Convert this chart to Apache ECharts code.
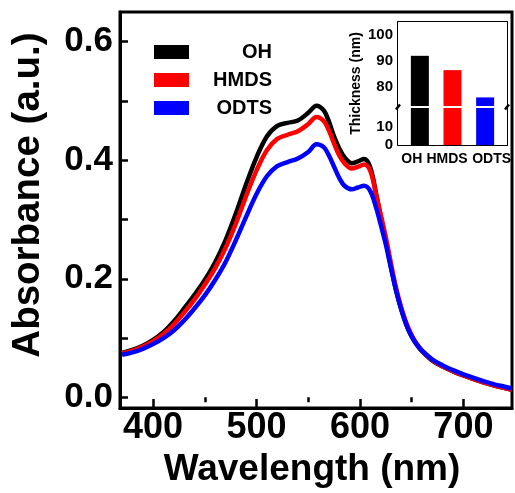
<!DOCTYPE html>
<html>
<head>
<meta charset="utf-8">
<script src="https://cdn.jsdelivr.net/npm/echarts@6/dist/echarts.min.js"></script>
<style>
  html, body { margin: 0; padding: 0; background: #fff; }
  #chart { width: 515px; height: 493px; }
</style>
</head>
<body>
<div id="chart"></div>
<script>
// UV-vis absorption spectra of films on differently treated substrates
const wavelength = [370, 380, 390, 400, 410, 420, 430, 440, 450, 460, 470, 480, 490, 500, 510, 520, 530, 540, 550, 558, 565, 570, 575, 580, 585, 592, 598, 604, 610, 616, 620, 625, 630, 635, 640, 645, 650, 655, 660, 670, 680, 690, 700, 710, 720, 730, 740, 747];
const absOH   = [0.075, 0.080, 0.087, 0.097, 0.110, 0.128, 0.150, 0.173, 0.198, 0.228, 0.265, 0.310, 0.360, 0.405, 0.440, 0.458, 0.463, 0.467, 0.480, 0.492, 0.484, 0.465, 0.440, 0.420, 0.405, 0.395, 0.398, 0.402, 0.388, 0.340, 0.305, 0.265, 0.220, 0.180, 0.148, 0.122, 0.103, 0.089, 0.078, 0.062, 0.052, 0.044, 0.037, 0.031, 0.025, 0.020, 0.016, 0.013];
const absHMDS = [0.074, 0.079, 0.086, 0.095, 0.107, 0.123, 0.143, 0.165, 0.190, 0.218, 0.252, 0.293, 0.340, 0.383, 0.417, 0.436, 0.443, 0.449, 0.461, 0.473, 0.466, 0.450, 0.428, 0.408, 0.395, 0.386, 0.389, 0.393, 0.382, 0.339, 0.309, 0.270, 0.226, 0.184, 0.151, 0.125, 0.105, 0.090, 0.079, 0.063, 0.052, 0.044, 0.037, 0.031, 0.025, 0.020, 0.016, 0.013];
const absODTS = [0.072, 0.076, 0.082, 0.090, 0.100, 0.113, 0.130, 0.150, 0.172, 0.198, 0.228, 0.265, 0.305, 0.343, 0.373, 0.390, 0.397, 0.403, 0.414, 0.427, 0.422, 0.408, 0.389, 0.370, 0.357, 0.351, 0.354, 0.357, 0.348, 0.318, 0.292, 0.258, 0.218, 0.180, 0.148, 0.122, 0.103, 0.089, 0.079, 0.064, 0.054, 0.046, 0.039, 0.033, 0.027, 0.022, 0.018, 0.015];

const seriesNames = ['OH', 'HMDS', 'ODTS'];
const xTickLabels = [400, 500, 600, 700];
const xMinorTicks = [450, 550, 650];
const yTickLabels = [0, 0.2, 0.4, 0.6];
const yTicks = [0, 0.1, 0.2, 0.3, 0.4, 0.5, 0.6];

// inset: film thickness per substrate treatment
const thicknessNm = [92, 86.5, 76];
const insetUpperTicks = [80, 85, 90, 95, 100];
const insetUpperLabels = [80, 90, 100];
const insetLowerTicks = [0, 5, 10, 15];
const insetLowerLabels = [0, 10];

const palette = ['#000000', '#ff0000', '#0000ff'];
const FONT = '"Liberation Sans", Arial, sans-serif';

// layout
const main = { left: 120, top: 12, width: 392, height: 401 };
const inset = { left: 398, width: 109, top: 22, breakTop: 106, breakBottom: 108, bottom: 145 };

const chart = echarts.init(document.getElementById('chart'), null, { renderer: 'canvas' });

const spectra = [absOH, absHMDS, absODTS];

const lineSeries = spectra.map((arr, i) => ({
  name: seriesNames[i],
  type: 'line',
  xAxisIndex: 0,
  yAxisIndex: 0,
  data: wavelength.map((w, k) => [w, arr[k]]),
  showSymbol: false,
  smooth: 0.35,
  lineStyle: { color: palette[i], width: 4.5 },
  itemStyle: { color: palette[i] },
  z: 3 + i
}));

const barData = thicknessNm.map((v, i) => ({ value: [i + 1, v], itemStyle: { color: palette[i] } }));

const insetLabelShift = {
  OH: { padding: [0, 16, 0, 0] },
  HMDS: { padding: [0, 11, 0, 0] },
  ODTS: { padding: [0, 0, 0, 13] }
};
const insetRich = {};
Object.keys(insetLabelShift).forEach(k => {
  insetRich[k] = Object.assign({ fontFamily: FONT, fontWeight: 'bold', fontSize: 14, color: '#000' }, insetLabelShift[k]);
});

const insetAxisLine = { show: true, lineStyle: { color: '#000', width: 2 } };

const option = {
  backgroundColor: '#fff',
  animation: false,
  grid: [
    { left: main.left, top: main.top, width: main.width, height: main.height, show: true, borderColor: '#000', borderWidth: 3, backgroundColor: 'transparent', z: 1 },
    { left: main.left, top: main.top, width: main.width, height: main.height, show: false },
    { left: inset.left, top: inset.top, width: inset.width, height: inset.breakTop - inset.top, show: true, borderWidth: 0, backgroundColor: '#fff', z: 10 },
    { left: inset.left, top: inset.breakBottom, width: inset.width, height: inset.bottom - inset.breakBottom, show: true, borderWidth: 0, backgroundColor: '#fff', z: 10 }
  ],
  legend: {
    data: seriesNames,
    orient: 'vertical',
    left: 149,
    top: 37,
    icon: 'rect',
    itemWidth: 35,
    itemHeight: 14,
    itemGap: 8,
    formatter: name => '{r|' + name + '}',
    textStyle: {
      fontFamily: FONT, fontWeight: 'bold', fontSize: 20, color: '#000', lineHeight: 14, width: 78,
      rich: { r: { fontFamily: FONT, fontWeight: 'bold', fontSize: 20, color: '#000', align: 'right', width: 78, lineHeight: 14 } }
    }
  },
  xAxis: [
    {
      gridIndex: 0, type: 'value', min: 368, max: 747,
      axisLine: { show: true, onZero: false, lineStyle: { color: '#000', width: 3 } },
      axisTick: { show: true, inside: true, length: 9, lineStyle: { color: '#000', width: 2.5 }, customValues: xTickLabels },
      axisLabel: { customValues: xTickLabels, fontFamily: FONT, fontWeight: 'bold', fontSize: 36, color: '#000', margin: 2 },
      splitLine: { show: false },
      name: 'Wavelength (nm)', nameLocation: 'middle', nameGap: 36,
      nameTextStyle: { fontFamily: FONT, fontWeight: 'bold', fontSize: 37, color: '#000', padding: [0, 8, 0, 0] }
    },
    {
      gridIndex: 1, type: 'value', min: 368, max: 747,
      axisLine: { show: false },
      axisTick: { show: true, inside: true, length: 5, lineStyle: { color: '#000', width: 2.5 }, customValues: xMinorTicks },
      axisLabel: { show: false },
      splitLine: { show: false }
    },
    {
      gridIndex: 2, type: 'value', min: 0.33, max: 3.67, position: 'top',
      axisLine: insetAxisLine, axisTick: { show: false }, axisLabel: { show: false }, splitLine: { show: false }
    },
    {
      gridIndex: 3, type: 'value', min: 0.33, max: 3.67, position: 'bottom',
      axisLine: insetAxisLine,
      axisTick: { show: true, inside: true, length: 3, lineStyle: { color: '#000', width: 1.5 }, customValues: [1.5, 2.5] },
      axisLabel: {
        customValues: [1, 2, 3], margin: 7,
        formatter: v => { const n = seriesNames[Math.round(v) - 1]; return '{' + n + '|' + n + '}'; },
        rich: insetRich
      },
      splitLine: { show: false }
    }
  ],
  yAxis: [
    {
      gridIndex: 0, type: 'value', min: -0.018, max: 0.65,
      axisLine: { show: true, onZero: false, lineStyle: { color: '#000', width: 3 } },
      axisTick: { show: true, inside: true, length: 8, lineStyle: { color: '#000', width: 2.5 }, customValues: yTicks },
      axisLabel: { customValues: yTickLabels, formatter: v => v.toFixed(1), fontFamily: FONT, fontWeight: 'bold', fontSize: 35, color: '#000', margin: 7 },
      splitLine: { show: false },
      name: 'Absorbance (a.u.)', nameLocation: 'middle', nameGap: 72,
      nameTextStyle: { fontFamily: FONT, fontWeight: 'bold', fontSize: 38.5, color: '#000', padding: [0, 0, 0, 30] }
    },
    {
      gridIndex: 1, type: 'value', min: -0.018, max: 0.65,
      axisLine: { show: false }, axisTick: { show: false }, axisLabel: { show: false }, splitLine: { show: false }
    },
    {
      gridIndex: 2, type: 'value', min: 72.7, max: 105, position: 'left',
      axisLine: insetAxisLine,
      axisTick: { show: true, inside: true, length: 3, lineStyle: { color: '#000', width: 1.5 }, customValues: insetUpperTicks },
      axisLabel: { customValues: insetUpperLabels, fontFamily: FONT, fontWeight: 'bold', fontSize: 15, color: '#000', margin: 5 },
      splitLine: { show: false }
    },
    {
      gridIndex: 2, type: 'value', min: 72.7, max: 105, position: 'right',
      axisLine: insetAxisLine, axisTick: { show: false }, axisLabel: { show: false }, splitLine: { show: false }
    },
    {
      gridIndex: 3, type: 'value', min: 0, max: 20.2, position: 'left',
      axisLine: insetAxisLine,
      axisTick: { show: true, inside: true, length: 3, lineStyle: { color: '#000', width: 1.5 }, customValues: insetLowerTicks },
      axisLabel: { customValues: insetLowerLabels, fontFamily: FONT, fontWeight: 'bold', fontSize: 15, color: '#000', margin: 5 },
      splitLine: { show: false }
    },
    {
      gridIndex: 3, type: 'value', min: 0, max: 20.2, position: 'right',
      axisLine: insetAxisLine, axisTick: { show: false }, axisLabel: { show: false }, splitLine: { show: false }
    }
  ],
  series: lineSeries.concat([
    { type: 'bar', xAxisIndex: 2, yAxisIndex: 2, data: barData, barWidth: 18, clip: true, z: 11 },
    { type: 'bar', xAxisIndex: 3, yAxisIndex: 4, data: barData, barWidth: 18, clip: true, z: 11 }
  ]),
  graphic: [
    {
      type: 'text', z: 20,
      x: 356, y: (inset.top + inset.bottom) / 2, rotation: Math.PI / 2,
      style: { text: 'Thickness (nm)', fontFamily: FONT, fontWeight: 'bold', fontSize: 14, fill: '#000', align: 'center', verticalAlign: 'middle' }
    }
  ].concat([inset.left, inset.left + inset.width].map(x => ({
    type: 'line', z: 20,
    shape: { x1: x - 2, y1: inset.breakBottom + 1.5, x2: x + 2, y2: inset.breakTop - 1.5 },
    style: { stroke: '#000', lineWidth: 2.5 }
  })))
};

chart.setOption(option);
</script>
</body>
</html>
